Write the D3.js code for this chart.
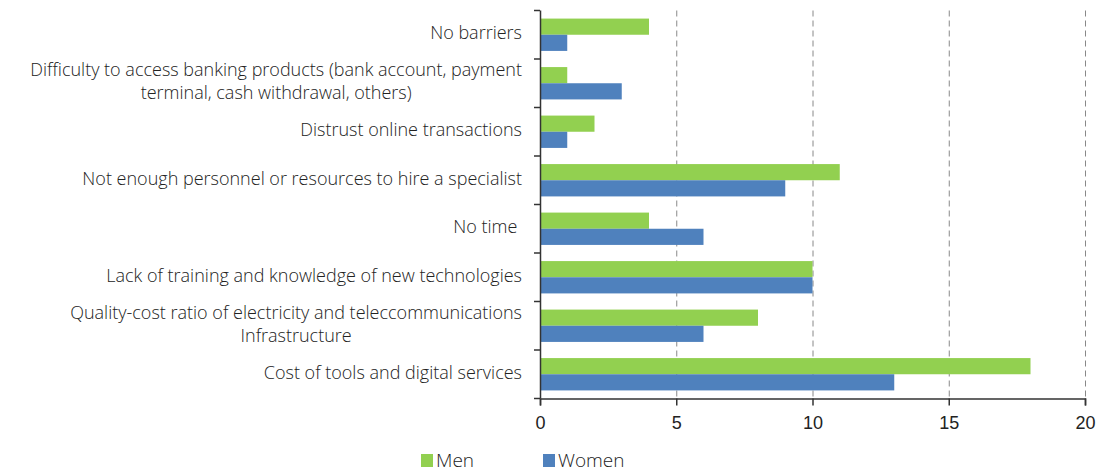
<!DOCTYPE html>
<html lang="en">
<head>
  <meta charset="UTF-8" />
  <title>Barriers to digitalisation by gender</title>
  <script src="https://d3js.org/d3.v7.min.js"></script>
  <style>
    body {
      margin: 0;
      background: #fff;
    }

    svg {
      font-family: "Open Sans", Roboto, sans-serif;
      font-weight: 300;
    }

    .cat-label {
      font-size: 18px;
      fill: #222;
      white-space: pre;
    }

    .x-axis text {
      font-size: 18px;
      fill: #222;
    }

    .grid line {
      stroke: #888;
      stroke-dasharray: 6, 4;
    }
  </style>
</head>
<body>
  <svg id="chart" width="1099" height="473"></svg>

  <script>
    // categories top to bottom, lines split where the label wraps
    const categories = [
      ["No barriers"],
      ["Difficulty to access banking products (bank account, payment", "terminal, cash withdrawal, others)"],
      ["Distrust online transactions"],
      ["Not enough personnel or resources to hire a specialist"],
      ["No time "],
      ["Lack of training and knowledge of new technologies"],
      ["Quality-cost ratio of electricity and teleccommunications", "Infrastructure"],
      ["Cost of tools and digital services"]
    ];
    const men = [4, 1, 2, 11, 4, 10, 8, 18];
    const women = [1, 3, 1, 9, 6, 10, 6, 13];
    const xTicks = [0, 5, 10, 15, 20];
    const seriesNames = ["Men", "Women"];
    const seriesColors = ["#92d050", "#4f81bd"];

    const svg = d3.select("#chart");
    const plotLeft = 540, plotRight = 1085, plotTop = 10.5, plotBottom = 398.5;
    const labelX = 522;

    const x = d3.scaleLinear().domain([0, 20]).range([plotLeft, plotRight]);
    const y = d3.scaleBand().domain(d3.range(categories.length)).range([plotTop, plotBottom]);
    const sub = d3.scaleBand().domain([0, 1]).range([0, y.bandwidth()]).paddingOuter(0.5).paddingInner(0);

    // dashed gridlines
    svg.append("g")
      .attr("class", "grid")
      .selectAll("line")
      .data(xTicks.slice(1))
      .join("line")
      .attr("x1", d => x(d) + 0.5)
      .attr("x2", d => x(d) + 0.5)
      .attr("y1", plotTop)
      .attr("y2", plotBottom);

    // bars
    const rows = categories.map((c, i) => ({ i, vals: [men[i], women[i]] }));
    const group = svg.append("g")
      .selectAll("g")
      .data(rows)
      .join("g")
      .attr("transform", d => `translate(0,${y(d.i)})`);

    group.selectAll("rect")
      .data(d => d.vals.map((v, s) => ({ v, s })))
      .join("rect")
      .attr("x", x(0))
      .attr("y", d => sub(d.s))
      .attr("width", d => x(d.v) - x(0))
      .attr("height", sub.bandwidth())
      .attr("fill", d => seriesColors[d.s]);

    // y axis line + tick marks at band edges
    svg.append("line")
      .attr("x1", plotLeft + 0.5).attr("x2", plotLeft + 0.5)
      .attr("y1", plotTop).attr("y2", plotBottom)
      .attr("stroke", "#333").attr("stroke-width", 1.5);

    svg.append("g")
      .selectAll("line")
      .data(d3.range(categories.length + 1))
      .join("line")
      .attr("x1", plotLeft - 6).attr("x2", plotLeft)
      .attr("y1", i => plotTop + i * y.step())
      .attr("y2", i => plotTop + i * y.step())
      .attr("stroke", "#333").attr("stroke-width", 1.5);

    // category labels
    const labels = svg.append("g")
      .selectAll("text")
      .data(categories)
      .join("text")
      .attr("class", "cat-label")
      .attr("text-anchor", "end")
      .attr("x", labelX)
      .attr("y", (d, i) => y(i) + y.bandwidth() / 2 - 2 - (d.length - 1) * 11.5);

    labels.selectAll("tspan")
      .data(d => d)
      .join("tspan")
      .attr("x", labelX)
      .attr("dy", (t, j) => j === 0 ? "0.35em" : 23)
      .attr("text-anchor", (t, j) => j === 0 ? "end" : "middle")
      .text(t => t);

    // centre the second line under the first one
    labels.each(function (d) {
      if (d.length < 2) return;
      const spans = d3.select(this).selectAll("tspan").nodes();
      const w = spans[0].getComputedTextLength();
      d3.select(spans[1]).attr("x", labelX - w / 2);
    });

    // x axis
    const xAxis = svg.append("g")
      .attr("class", "x-axis")
      .attr("transform", `translate(0,${plotBottom})`)
      .call(d3.axisBottom(x).tickValues(xTicks).tickSize(7).tickPadding(11));
    xAxis.select(".domain").attr("stroke", "#333").attr("stroke-width", 1.5);
    xAxis.selectAll(".tick line").attr("stroke", "#333").attr("stroke-width", 1.5);

    // legend
    const legend = svg.append("g")
      .selectAll("g")
      .data(seriesNames)
      .join("g")
      .attr("transform", (d, i) => `translate(${421 + i * 122},454)`);

    legend.append("rect")
      .attr("width", 12).attr("height", 13)
      .attr("fill", (d, i) => seriesColors[i]);

    legend.append("text")
      .attr("x", 15).attr("y", 13)
      .attr("font-size", 19)
      .attr("fill", "#222")
      .text(d => d);
  </script>
</body>
</html>
